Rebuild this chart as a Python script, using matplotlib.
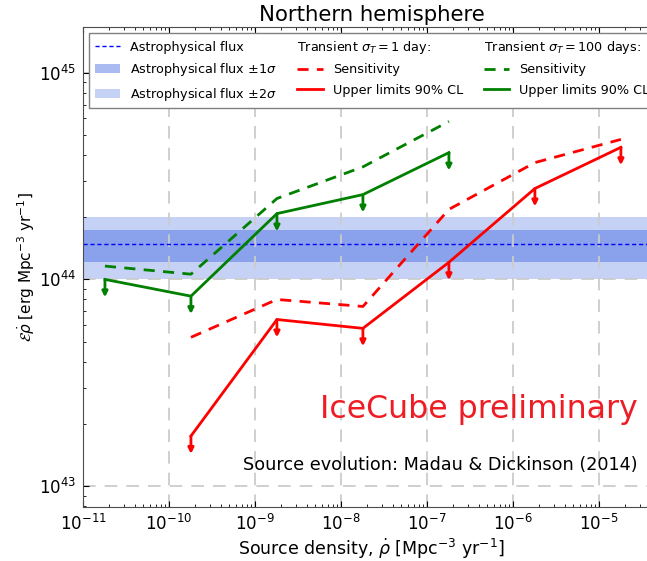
import numpy as np
import matplotlib
matplotlib.use("Agg")
import matplotlib.pyplot as plt
from matplotlib.lines import Line2D

# ---------------------------------------------------------------------
# data (source density vs. energy density)
# ---------------------------------------------------------------------
dens_green = [1.8e-11, 1.8e-10, 1.8e-9, 1.8e-8, 1.8e-7]
green_sens = [1.16e44, 1.06e44, 2.46e44, 3.5e44, 5.8e44]
green_ul = [1.0e44, 8.3e43, 2.08e44, 2.57e44, 4.1e44]

dens_red = [1.8e-10, 1.8e-9, 1.8e-8, 1.8e-7, 1.8e-6, 1.8e-5]
red_sens = [5.25e43, 8.0e43, 7.4e43, 2.18e44, 3.67e44, 4.75e44]
red_ul = [1.75e43, 6.4e43, 5.8e43, 1.21e44, 2.75e44, 4.35e44]

astro_flux = 1.48e44
astro_1sig = [1.22e44, 1.73e44]
astro_2sig = [1.0e44, 2.0e44]

ARROW_FACTOR = 0.82  # length of the downward upper-limit arrows (log space)

fig = plt.figure(figsize=(6.47, 5.61), dpi=100)
ax = fig.add_axes([83 / 647, 1 - 507 / 561, (660 - 83) / 647, (507 - 27) / 561])

ax.set_xscale("log")
ax.set_yscale("log")
ax.set_xlim(1e-11, 10 ** -4.29)
ax.set_ylim(10 ** 42.9, 10 ** 45.22)

# astrophysical flux bands
band2 = ax.axhspan(astro_2sig[0], astro_2sig[1], color="royalblue", alpha=0.3, lw=0, zorder=1,
                   label=r"Astrophysical flux $\pm 2\sigma$")
band1 = ax.axhspan(astro_1sig[0], astro_1sig[1], color="royalblue", alpha=0.45, lw=0, zorder=1,
                   label=r"Astrophysical flux $\pm 1\sigma$")
flux_line = ax.axhline(astro_flux, color="b", ls="--", lw=1, dashes=(3, 2), zorder=2,
                       label="Astrophysical flux")

# sensitivities and upper limits
red_s, = ax.plot(dens_red, red_sens, color="r", ls="--", lw=2, dashes=(4, 3), zorder=3, label="Sensitivity")
red_u, = ax.plot(dens_red, red_ul, color="r", lw=2, zorder=3, label="Upper limits 90% CL")
green_s, = ax.plot(dens_green, green_sens, color="g", ls="--", lw=2, dashes=(4, 3), zorder=3, label="Sensitivity")
green_u, = ax.plot(dens_green, green_ul, color="g", lw=2, zorder=3, label="Upper limits 90% CL")

for xs, ys, col in [(dens_red, red_ul, "r"), (dens_green, green_ul, "g")]:
    for xv, yv in zip(xs, ys):
        ax.annotate("", xy=(xv, yv * ARROW_FACTOR), xytext=(xv, yv),
                    arrowprops=dict(arrowstyle="-|>", color=col, lw=2, mutation_scale=8,
                                    shrinkA=0, shrinkB=0), zorder=3)

# grid / ticks
ax.grid(True, which="major", color="0.8", ls="--", dashes=(7, 5), lw=1.3, zorder=0)
ax.tick_params(which="both", direction="in", top=True, right=True)
ax.tick_params(which="major", length=4, labelsize=12, pad=5)
ax.tick_params(which="minor", length=2)
for spine in ax.spines.values():
    spine.set_color("0.3")

ax.set_xlabel(r"Source density, $\dot{\rho}$ [Mpc$^{-3}$ yr$^{-1}$]", fontsize=12.5, labelpad=2)
ax.set_ylabel(r"$\mathcal{E}\dot{\rho}$ [erg Mpc$^{-3}$ yr$^{-1}$]", fontsize=11, labelpad=1)
ax.set_title("Northern hemisphere", fontsize=15.3, pad=4)

# texts
ax.text(10 ** -4.55, 10 ** 43.33, "IceCube preliminary", color="#ee1c24", fontsize=22.7,
        ha="right", va="baseline")
ax.text(10 ** -4.55, 10 ** 43.08, "Source evolution: Madau & Dickinson (2014)", color="k",
        fontsize=12.7, ha="right", va="baseline")

# legend: three columns, second and third with a header line
hdr1 = Line2D([], [], color="none")
hdr2 = Line2D([], [], color="none")
handles = [flux_line, band1, band2, hdr1, red_s, red_u, hdr2, green_s, green_u]
labels = ["Astrophysical flux", r"Astrophysical flux $\pm 1\sigma$", r"Astrophysical flux $\pm 2\sigma$",
          r"Transient $\sigma_T = 1$ day:", "Sensitivity", "Upper limits 90% CL",
          r"Transient $\sigma_T = 100$ days:", "Sensitivity", "Upper limits 90% CL"]
leg = ax.legend(handles, labels, ncol=3, loc="upper left", fontsize=9.2, fancybox=False,
                framealpha=1, edgecolor="0.5", columnspacing=1.6, handletextpad=0.8,
                labelspacing=0.6)
leg.set_zorder(5)

# pull the header texts left over their empty handle slot
for col in leg._legend_handle_box.get_children():
    for row in col.get_children():
        kids = row.get_children()
        if len(kids) == 2 and kids[1].get_text().startswith("Transient"):
            row.sep = 0
            kids[0].width = 0

fig.savefig("out.png", dpi=100)
